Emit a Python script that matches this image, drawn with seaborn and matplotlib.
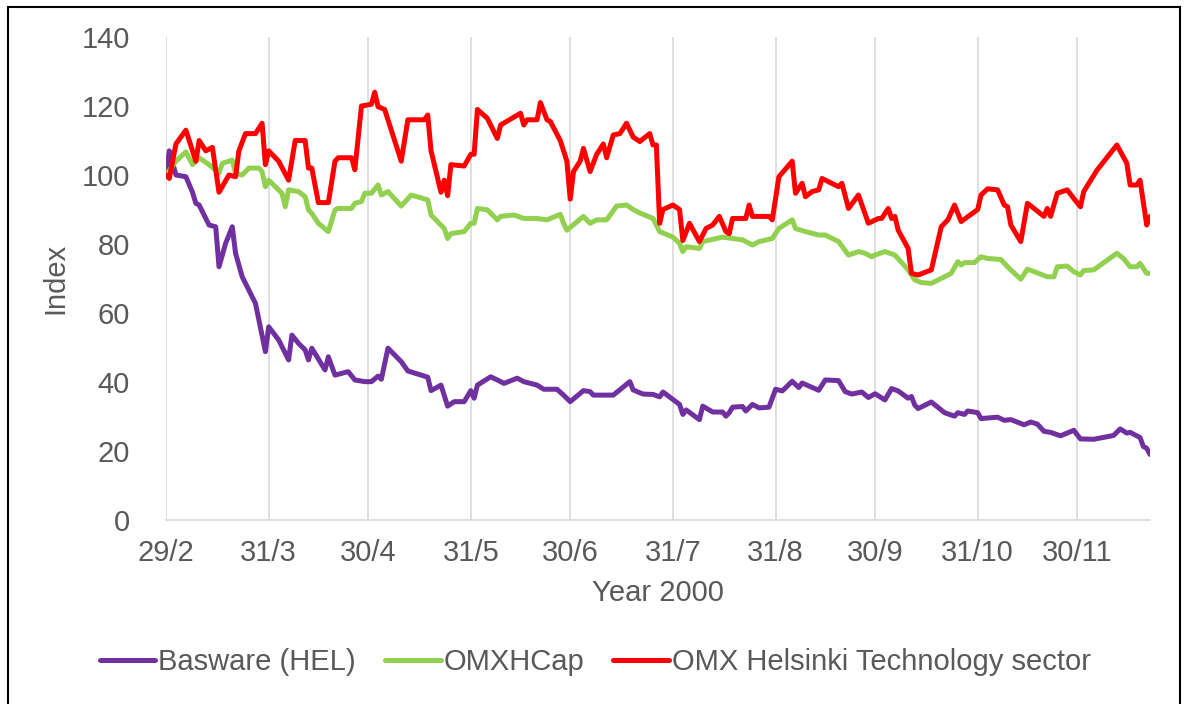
import pandas as pd
import matplotlib.pyplot as plt
from matplotlib.patches import Rectangle
import seaborn as sns

# Day offsets from 29 Feb 2000 and index values
basware_days = [0, 1, 3, 6, 8, 9, 10, 13, 15, 16,
                18, 20, 21, 23, 27, 30, 31, 34, 37, 38,
                40, 42, 43, 44, 48, 49, 51, 55, 57, 60,
                62, 64, 65, 67, 71, 73, 79, 80, 83, 85,
                87, 90, 92, 93, 94, 98, 100, 102, 106, 108,
                112, 114, 118, 120, 122, 126, 128, 129, 135, 140,
                141, 144, 147, 149, 150, 155, 156, 157, 161, 162,
                165, 168, 169, 170, 171, 174, 175, 177, 179, 182,
                184, 186, 189, 191, 192, 197, 199, 203, 205, 207,
                210, 212, 214, 217, 219, 221, 224, 225, 226, 227,
                231, 235, 238, 239, 241, 242, 245, 246, 251, 253,
                255, 259, 261, 263, 265, 267, 270, 274, 276, 280,
                286, 288, 290, 291, 294, 295, 296, 297]
basware_vals = [100, 107, 100, 99.5, 95, 91.8, 91.3, 85.5, 85, 73.4,
                80.2, 85, 77.3, 70.5, 62.8, 48.8, 56, 52.2, 46.4, 53.6,
                51.2, 49.3, 46.4, 49.8, 43.5, 47.3, 42, 43, 40.6, 40.1,
                40.1, 41.7, 40.8, 49.8, 45.9, 43.2, 41.4, 37.5, 39.1, 33,
                34.3, 34.3, 37.5, 35.3, 39.1, 41.5, 40.6, 39.6, 41.1, 40.1,
                39.1, 37.9, 37.9, 36.2, 34.3, 37.5, 37.2, 36.2, 36.2, 40.1,
                37.7, 36.5, 36.4, 35.7, 37.1, 33.5, 30.6, 31.9, 29.1, 33,
                31.3, 31.3, 30.1, 31.1, 32.7, 32.9, 31.6, 33.5, 32.5, 32.7,
                37.9, 37.4, 40.2, 38.4, 39.7, 37.6, 40.6, 40.4, 37.2, 36.5,
                37.1, 35.5, 36.6, 34.8, 38.1, 37.4, 35.3, 35.8, 33.3, 32.3,
                34.2, 31.1, 30.1, 31.1, 30.6, 31.6, 31.1, 29.4, 29.8, 28.9,
                29.1, 27.6, 28.4, 27.8, 25.7, 25.4, 24.4, 26, 23.5, 23.4,
                24.5, 26.4, 25.2, 25.4, 23.9, 21.3, 20.8, 19]

omxhcap_days = [0, 3, 6, 8, 10, 13, 16, 17, 20, 21,
                23, 25, 28, 29, 30, 31, 35, 36, 37, 40,
                42, 43, 44, 46, 49, 51, 52, 56, 57, 59,
                60, 62, 64, 65, 67, 71, 74, 79, 80, 84,
                85, 86, 90, 92, 93, 94, 97, 100, 101, 105,
                108, 112, 115, 119, 120, 121, 126, 128, 130, 133,
                136, 139, 141, 143, 147, 149, 153, 155, 156, 157,
                161, 162, 168, 171, 174, 177, 179, 183, 185, 189,
                190, 193, 197, 199, 203, 206, 209, 211, 213, 214,
                217, 220, 224, 226, 228, 231, 235, 237, 239, 240,
                241, 244, 246, 248, 252, 254, 258, 260, 262, 266,
                268, 269, 272, 274, 276, 277, 280, 287, 289, 291,
                293, 294, 296, 297]
omxhcap_vals = [100, 104, 106.7, 103, 105, 103, 100.5, 103.4, 104.3, 100.5,
                100, 102, 102, 101, 96.6, 98.5, 94.7, 90.8, 95.7, 95.2,
                93.7, 89.9, 88.9, 86, 83.6, 89.9, 90.3, 90.3, 91.8, 92.3,
                94.7, 94.7, 97.1, 94.2, 95.2, 91, 94.2, 92.8, 88.4, 84.5,
                81.6, 83, 83.6, 86, 86, 90.3, 89.9, 87, 88, 88.4,
                87.4, 87.4, 87, 88.6, 86, 84, 88, 86, 87, 87,
                91, 91.3, 90, 89, 87.4, 83.6, 82, 80.2, 77.8, 79.2,
                78.7, 80.7, 82, 81.6, 81.2, 79.7, 80.7, 81.6, 84.5, 87,
                84.5, 83.6, 82.6, 82.6, 80.7, 76.8, 77.8, 77.3, 76.3, 76.8,
                77.8, 76.8, 72.5, 69.6, 68.8, 68.6, 70.5, 71.5, 74.9, 73.9,
                74.6, 74.6, 76.3, 75.8, 75.5, 73.4, 69.8, 72.7, 72, 70.5,
                70.5, 73.4, 73.6, 72, 71, 72.3, 72.5, 77.3, 75.8, 73.4,
                73.4, 74.4, 71.5, 71.5]

tech_days = [0, 1, 3, 6, 9, 10, 12, 14, 16, 19,
             21, 22, 24, 27, 29, 30, 31, 34, 37, 39,
             42, 43, 44, 46, 49, 51, 52, 56, 57, 59,
             62, 63, 64, 66, 71, 73, 78, 79, 80, 83,
             84, 85, 86, 90, 92, 93, 94, 97, 100, 101,
             107, 108, 109, 112, 113, 115, 116, 119, 121, 122,
             123, 125, 126, 128, 130, 132, 133, 135, 137, 139,
             141, 143, 146, 147, 148, 149, 150, 153, 155, 156,
             158, 161, 163, 165, 167, 169, 170, 171, 175, 176,
             177, 182, 183, 185, 189, 190, 192, 193, 195, 197,
             198, 203, 204, 206, 209, 212, 215, 216, 218, 219,
             220, 221, 224, 225, 227, 231, 234, 236, 238, 240,
             245, 246, 248, 251, 253, 254, 255, 258, 260, 262,
             265, 266, 267, 269, 272, 274, 276, 277, 281, 287,
             290, 291, 293, 294, 296, 297]
tech_vals = [100, 99, 109, 113, 104, 110, 107, 108, 95, 100,
             99.5, 107, 112, 112, 115, 103, 107, 104, 98.5, 110,
             110, 102, 102, 92, 92, 104, 105, 105, 101.5, 120,
             120.5, 124, 119.8, 119, 104, 116, 116, 117.4, 107, 95,
             98.5, 94, 103, 102.6, 106, 106, 119, 116.4, 110.6, 114.5,
             117.9, 114.5, 116, 116, 121, 116, 115.5, 110, 104, 93,
             101, 104, 107.7, 101, 106, 109, 105, 111.6, 112, 115,
             111, 109.7, 112, 108.7, 108.7, 86, 90, 91.3, 90, 81,
             86, 80.7, 84.5, 85.5, 88, 83.6, 83, 87.4, 87.4, 91.3,
             88, 88, 87, 99.5, 104, 94.7, 97.6, 93.7, 95.2, 95.7,
             99, 96.6, 97.6, 90.3, 94.2, 86, 87.4, 87.4, 90.3, 87.4,
             88, 84, 78.7, 71.5, 71, 72.5, 85, 87, 91.3, 86.5,
             90, 94.2, 96, 95.7, 91.3, 90.8, 85.5, 80.7, 91.8, 90.3,
             88, 90.3, 88, 94.7, 95.7, 93.2, 90.8, 95.2, 101.4, 108.7,
             103.4, 97.1, 97.1, 98.5, 85.5, 88]

tick_dates = ["2000-02-29", "2000-03-31", "2000-04-30", "2000-05-31", "2000-06-30",
              "2000-07-31", "2000-08-31", "2000-09-30", "2000-10-31", "2000-11-30"]
tick_labels = ["29/2", "31/3", "30/4", "31/5", "30/6", "31/7", "31/8", "30/9", "31/10", "30/11"]
y_ticks = [0, 20, 40, 60, 80, 100, 120, 140]

start = pd.Timestamp("2000-02-29")
series = [
    ("Basware (HEL)", basware_days, basware_vals, "#7030A0"),
    ("OMXHCap", omxhcap_days, omxhcap_vals, "#92D050"),
    ("OMX Helsinki Technology sector", tech_days, tech_vals, "#FF0000"),
]

sns.set_theme(style="white")
plt.rcParams["font.family"] = ["Liberation Sans", "DejaVu Sans"]
text_col = "#595959"
grid_col = "#D9D9D9"

W, H = 1186, 704
fig = plt.figure(figsize=(W / 100, H / 100), dpi=100)
ax = fig.add_axes([166 / W, 1 - 520 / H, (1150 - 166) / W, (520 - 37) / H])

for name, days, vals, col in series:
    df = pd.DataFrame({"date": start + pd.to_timedelta(days, unit="D"), "value": vals})
    sns.lineplot(data=df, x="date", y="value", ax=ax, color=col, linewidth=3.6,
                 label=name, solid_joinstyle="round", solid_capstyle="round")

ax.set_xlim(start, start + pd.Timedelta(days=297))
ax.set_ylim(0, 140)
ax.set_yticks(y_ticks)
ax.set_xticks(pd.to_datetime(tick_dates))
ax.set_xticklabels(tick_labels)

ax.grid(axis="x", color=grid_col, linewidth=1.2)
ax.grid(axis="y", visible=False)
for side in ["left", "right", "top"]:
    ax.spines[side].set_visible(False)
ax.spines["bottom"].set_color(grid_col)
ax.spines["bottom"].set_linewidth(1.2)

ax.tick_params(axis="y", length=0, pad=26, labelsize=21, labelcolor=text_col)
ax.tick_params(axis="x", length=0, pad=14, labelsize=21, labelcolor=text_col)
ax.set_xlabel("Year 2000", fontsize=21, color=text_col, labelpad=8)
ax.set_ylabel("Index", fontsize=21, color=text_col, labelpad=9)

handles, labels = ax.get_legend_handles_labels()
ax.get_legend().remove()
fig.legend(handles, labels, loc="center", bbox_to_anchor=(0.502, 1 - 662 / H), ncol=3,
           frameon=False, fontsize=21, labelcolor=text_col, handlelength=1.9,
           handletextpad=0.1, columnspacing=1.0)

fig.patches.append(Rectangle((8 / W, -0.02), (1180 - 8) / W, (H - 7) / H + 0.02,
                             transform=fig.transFigure, fill=False, edgecolor="black",
                             linewidth=1.5))

fig.savefig("out.png", dpi=100)
